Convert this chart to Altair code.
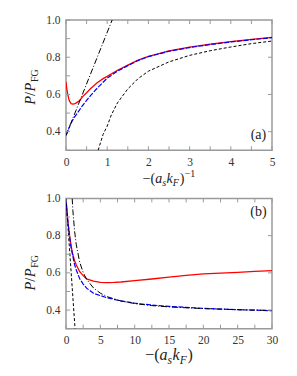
import altair as alt
import pandas as pd

# ---------------- Panel (a): x = -(a_s k_F)^-1 ----------------
red_a_x = [0, 0.01, 0.02, 0.033, 0.04, 0.05, 0.067, 0.08, 0.1, 0.125, 0.167, 0.2, 0.25, 0.333,
           0.4, 0.5, 0.6, 0.75, 0.9, 1.0, 1.25, 1.5, 1.75, 2.0, 2.5, 3.0, 3.5, 4.0, 4.5, 5.0]
red_a_y = [0.668, 0.648, 0.63, 0.612, 0.603, 0.594, 0.577, 0.567, 0.558, 0.551, 0.548, 0.549, 0.555, 0.568,
           0.587, 0.609, 0.632, 0.662, 0.685, 0.697, 0.73, 0.758, 0.784, 0.805, 0.834, 0.854, 0.87, 0.884, 0.896, 0.907]

blue_a_x = [0, 0.033, 0.05, 0.1, 0.15, 0.2, 0.25, 0.3, 0.4, 0.5, 0.6, 0.75, 1.0, 1.25, 1.5, 1.75,
            2.0, 2.5, 3.0, 3.5, 4.0, 4.5, 5.0]
blue_a_y = [0.38, 0.397, 0.407, 0.435, 0.457, 0.477, 0.492, 0.508, 0.54, 0.568, 0.595, 0.632, 0.688, 0.725,
            0.755, 0.782, 0.803, 0.832, 0.852, 0.868, 0.882, 0.894, 0.905]

dashdot_a_x = [0.0, 1.12]
dashdot_a_y = [0.38, 1.0]

dashed_a_x = [0.78, 0.85, 0.9, 1.0, 1.1, 1.25, 1.5, 1.75, 2.0, 2.5, 3.0, 3.5, 4.0, 4.5, 5.0]
dashed_a_y = [0.30, 0.35, 0.385, 0.43, 0.49, 0.555, 0.63, 0.685, 0.725, 0.775, 0.81, 0.835, 0.855, 0.873, 0.887]

# ---------------- Panel (b): x = -(a_s k_F) ----------------
red_b_x = [0, 0.1, 0.25, 0.5, 0.75, 1.0, 1.25, 1.5, 2.0, 2.5, 3.0, 4.0, 5.0, 6.0, 7.0, 8.0,
           10, 12.5, 15, 17.5, 20, 22.5, 25, 27.5, 30]
red_b_y = [1.0, 0.95, 0.885, 0.805, 0.742, 0.697, 0.665, 0.642, 0.606, 0.585, 0.568, 0.555, 0.549, 0.548,
           0.549, 0.551, 0.558, 0.567, 0.577, 0.586, 0.594, 0.599, 0.603, 0.608, 0.612]

blue_b_x = [0, 0.1, 0.25, 0.5, 0.75, 1.0, 1.25, 1.5, 2.0, 2.5, 3.0, 4.0, 5.0, 6.0, 8.0,
            10, 12.5, 15, 20, 25, 30]
blue_b_y = [1.0, 0.945, 0.882, 0.803, 0.735, 0.688, 0.645, 0.615, 0.568, 0.54, 0.518, 0.49, 0.478, 0.466,
            0.449, 0.437, 0.427, 0.42, 0.409, 0.402, 0.397]

dashdot_b_x = [0.9, 1.0, 1.25, 1.5, 2.0, 2.5, 3, 4, 5, 6, 8, 10, 12.5, 15, 20, 25, 30]
dashdot_b_y = [1.0, 0.935, 0.825, 0.75, 0.657, 0.602, 0.565, 0.519, 0.491, 0.472, 0.449, 0.435,
               0.424, 0.417, 0.408, 0.402, 0.398]

dashed_b_x = [0.0, 1.32]
dashed_b_y = [1.0, 0.30]

# ---------------- ticks / labels ----------------
xlabels_a = [0, 1, 2, 3, 4, 5]
xticks_a = [0.5 * i for i in range(11)]
xlabels_b = [0, 5, 10, 15, 20, 25, 30]
xticks_b = [2.5 * i for i in range(13)]
ylabels = [0.4, 0.6, 0.8, 1.0]
yticks_left = [0.3, 0.4, 0.5, 0.6, 0.7, 0.8, 0.9, 1.0]
yticks_right = [0.4, 0.6, 0.8]

W, H = 206, 130.3
FONT = "Liberation Serif"
FRAME = "#9a9a9a"
TXT = "#333333"
TL = 4  # tick length

ADV = {'−': 0.564, '(': 0.333, ')': 0.333, 'a': 0.5, 's': 0.389, 'k': 0.444,
       'F': 0.611, '1': 0.5, 'P': 0.611, '/': 0.278, 'G': 0.722}


def width(txt, size):
    return sum(ADV.get(c, 0.5) for c in txt) * size


def text_piece(txt, x, y, size, italic, angle=0):
    kw = dict(text=txt, font=FONT, fontSize=size, align="left", baseline="alphabetic",
              color="#222222")
    if italic:
        kw["fontStyle"] = "italic"
    if angle:
        kw["angle"] = angle
    return alt.Chart(pd.DataFrame({"d": [0]})).mark_text(**kw).encode(
        x=alt.value(x), y=alt.value(y))


def xtitle(pieces, center, base):
    # pieces: (text, size, italic, shift)
    total = sum(width(t, s) + g for t, s, it, sh, g in pieces)
    x = center - total / 2
    out = []
    for t, s, it, sh, g in pieces:
        out.append(text_piece(t, x, base + sh, s, it))
        x += width(t, s) + g
    return out


def ytitle(pieces, center, base):
    total = sum(width(t, s) + g for t, s, it, sh, g in pieces)
    y = center + total / 2
    out = []
    for t, s, it, sh, g in pieces:
        out.append(text_piece(t, base + sh, y, s, it, angle=270))
        y -= width(t, s) + g
    return out


def panel(curves, xdom, xlabels, xticks, xt_pieces, xt_base, yt_center, tag, tag_base, xt_size):
    X = alt.X("x:Q", scale=alt.Scale(domain=xdom, nice=False, zero=False),
              axis=alt.Axis(values=xlabels, ticks=False, domain=False, grid=False, title=None,
                            labelFont=FONT, labelFontSize=11.5, labelColor=TXT, labelPadding=6,
                            labelFlush=False, labelOverlap=False, format="d"))
    Y = alt.Y("y:Q", scale=alt.Scale(domain=[0.3, 1.0], nice=False, zero=False),
              axis=alt.Axis(values=ylabels, ticks=False, domain=False, grid=False, title=None,
                            labelFont=FONT, labelFontSize=11.5, labelColor=TXT, labelPadding=6,
                            labelFlush=False, labelOverlap=False, format=".1f",
                            minExtent=51.3, maxExtent=51.3))
    layers = []
    for xs, ys, color, dash, sw in curves:
        df = pd.DataFrame({"x": xs, "y": ys})
        kw = dict(color=color, strokeWidth=sw, clip=True)
        if dash:
            kw["strokeDash"] = dash
        layers.append(alt.Chart(df).mark_line(**kw).encode(x=X, y=Y))
    tx = pd.DataFrame({"x": xticks})
    rule = dict(color=FRAME, strokeWidth=1)
    layers.append(alt.Chart(tx).mark_rule(**rule).encode(x=X, y=alt.value(H), y2=alt.value(H - TL)))
    layers.append(alt.Chart(tx).mark_rule(**rule).encode(x=X, y=alt.value(0), y2=alt.value(TL)))
    tyl = pd.DataFrame({"y": yticks_left})
    layers.append(alt.Chart(tyl).mark_rule(**rule).encode(y=Y, x=alt.value(0), x2=alt.value(TL)))
    tyr = pd.DataFrame({"y": yticks_right})
    layers.append(alt.Chart(tyr).mark_rule(**rule).encode(y=Y, x=alt.value(W), x2=alt.value(W - TL)))
    # axis titles built from pieces (sub/superscripts)
    layers += xtitle(xt_pieces, W / 2, xt_base)
    yp = [("P", 14.5, True, 0, 0), ("/", 14.5, False, 0, 0.5), ("P", 14.5, True, 0, 0.5),
          ("FG", 10, False, 3, 0)]
    layers += ytitle(yp, yt_center, -31)
    layers.append(alt.Chart(pd.DataFrame({"d": [0]})).mark_text(
        text=tag, font=FONT, fontSize=14, align="center", baseline="alphabetic", color="#222222"
    ).encode(x=alt.value(192.4), y=alt.value(tag_base)))
    return alt.layer(*layers).properties(width=W, height=H)


RED, BLUE, BLK = "#ff0000", "#0000ff", "#000000"

curves_a = [
    (red_a_x, red_a_y, RED, None, 1.3),
    (blue_a_x, blue_a_y, BLUE, [5, 1.5], 1.2),
    (dashdot_a_x, dashdot_a_y, BLK, [6, 2, 1, 2], 1.0),
    (dashed_a_x, dashed_a_y, BLK, [3, 2], 1.0),
]
curves_b = [
    (red_b_x, red_b_y, RED, None, 1.3),
    (blue_b_x, blue_b_y, BLUE, [5, 1.5], 1.2),
    (dashdot_b_x, dashdot_b_y, BLK, [6, 2, 1, 2], 1.0),
    (dashed_b_x, dashed_b_y, BLK, [3, 2], 1.0),
]

xt_a = [("−(", 14, False, 0, 0), ("a", 14, True, 0, 0), ("s", 10, True, 3, 0.5),
        ("k", 14, True, 0, 0), ("F", 10, True, 3, 0.8), (")", 14, False, 0, 0.3),
        ("−1", 10, False, -6, 0)]
xt_b = [("−(", 16, False, 0, 0), ("a", 16, True, 0, 0), ("s", 11.5, True, 3.5, 0.5),
        ("k", 16, True, 0, 0), ("F", 11.5, True, 3.5, 0.8), (")", 16, False, 0, 0)]

pa = panel(curves_a, [0, 5], xlabels_a, xticks_a, xt_a, 163, 66.8, "(a)", 119, 14)
pb = panel(curves_b, [0, 30], xlabels_b, xticks_b, xt_b, 162, 74.1, "(b)", 17.8, 16)

chart = alt.vconcat(pa, pb, spacing=47.4, bounds="flush").configure_view(
    stroke=FRAME, strokeWidth=1.5
)

chart.save("out.html", embed_options={"renderer": "svg", "actions": False})
